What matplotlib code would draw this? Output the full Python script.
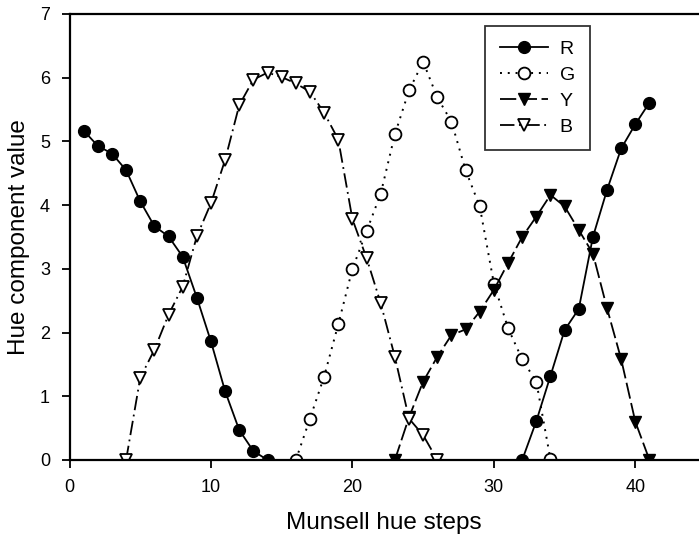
import matplotlib
matplotlib.use("Agg")
import matplotlib.pyplot as plt

plt.rcParams['font.family'] = ['Liberation Sans', 'DejaVu Sans']

# Hue component curves along the Munsell hue circle
r_x1 = [1, 2, 3, 4, 5, 6, 7, 8, 9, 10, 11, 12, 13, 14]
r_y1 = [5.17, 4.93, 4.81, 4.55, 4.06, 3.67, 3.51, 3.19, 2.55, 1.86, 1.08, 0.47, 0.14, 0.0]
r_x2 = [32, 33, 34, 35, 36, 37, 38, 39, 40, 41]
r_y2 = [0.0, 0.61, 1.32, 2.04, 2.37, 3.50, 4.24, 4.89, 5.27, 5.61]

g_x = list(range(16, 35))
g_y = [0.0, 0.65, 1.31, 2.13, 3.0, 3.59, 4.18, 5.11, 5.80, 6.25, 5.69, 5.31,
       4.55, 3.98, 2.77, 2.07, 1.58, 1.23, 0.01]

y_x = list(range(23, 42))
y_y = [0.0, 0.67, 1.23, 1.62, 1.96, 2.05, 2.33, 2.67, 3.09, 3.50, 3.82, 4.16,
       3.98, 3.61, 3.24, 2.38, 1.58, 0.60, 0.0]

b_x = list(range(4, 27))
b_y = [0.0, 1.29, 1.73, 2.28, 2.72, 3.51, 4.03, 4.71, 5.57, 5.97, 6.08, 6.01,
       5.91, 5.78, 5.45, 5.03, 3.78, 3.17, 2.46, 1.62, 0.65, 0.39, 0.0]

x_ticks = [0, 10, 20, 30, 40]
y_ticks = [0, 1, 2, 3, 4, 5, 6, 7]

fig = plt.figure(figsize=(6.99, 5.39), dpi=100)
ax = fig.add_axes([69.5 / 699, 79 / 539, 629.5 / 699, 446 / 539])

ms = 8.5
lw = 1.3
ax.plot(r_x1, r_y1, '-', color='black', lw=lw, marker='o', ms=ms,
        mfc='black', mec='black', label='R')
ax.plot(r_x2, r_y2, '-', color='black', lw=lw, marker='o', ms=ms,
        mfc='black', mec='black')
ax.plot(g_x, g_y, linestyle=(0, (1, 3)), color='black', lw=1.4, marker='o',
        ms=ms, mfc='white', mec='black', mew=1.3, label='G')
ax.plot(y_x, y_y, linestyle=(0, (9, 2.5)), color='black', lw=lw, marker='v',
        ms=ms, mfc='black', mec='black', label='Y')
ax.plot(b_x, b_y, linestyle=(0, (8, 2.5, 1, 2.5)), color='black', lw=lw,
        marker='v', ms=ms, mfc='white', mec='black', mew=1.3, label='B')

ax.set_xlim(0, 44.5)
ax.set_ylim(0, 7)
ax.set_xticks(x_ticks)
ax.set_yticks(y_ticks)
ax.tick_params(axis='both', direction='out', length=6, width=1.3,
               labelsize=13, colors='black')
ax.tick_params(axis='x', pad=8)
ax.tick_params(axis='y', pad=8)

for side in ('left', 'bottom', 'top'):
    ax.spines[side].set_linewidth(1.6)
ax.spines['right'].set_visible(False)

ax.set_xlabel('Munsell hue steps', fontsize=17.5, labelpad=11)
ax.set_ylabel('Hue component value', fontsize=17.5, labelpad=7)

leg = ax.legend(loc='upper left', bbox_to_anchor=(415.5 / 629.5, 1 - 12 / 446),
                fontsize=14, frameon=True, fancybox=False, edgecolor='black',
                handlelength=2.5, handletextpad=0.6, labelspacing=0.42,
                borderpad=0.75, borderaxespad=0)
leg.get_frame().set_linewidth(1.3)

fig.savefig('out.png', dpi=100)
